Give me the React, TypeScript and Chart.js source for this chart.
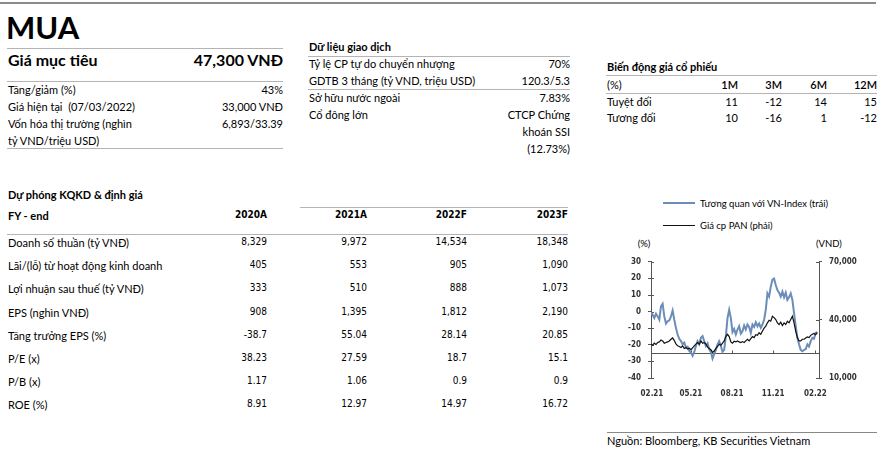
import React, { useEffect, useRef } from 'react';
import { Chart, registerables } from 'chart.js';

Chart.register(...registerables);

// ---------- Text data ----------
const TITLE = 'MUA';
const TARGET_LABEL = 'Giá mục tiêu';
const TARGET_VALUE = '47,300 VNĐ';
const INFO_LABELS = ['Tăng/giảm (%)', 'Giá hiện tại  (07/03/2022)', 'Vốn hóa thị trường (nghìn', 'tỷ VND/triệu USD)'];
const INFO_VALUES = ['43%', '33,000 VNĐ', '6,893/33.39', ''];

const TRADING_TITLE = 'Dữ liệu giao dịch';
const TRADING_LABELS = ['Tỷ lệ CP tự do chuyển nhượng', 'GDTB 3 tháng (tỷ VND, triệu USD)', 'Sở hữu nước ngoài', 'Cổ đông lớn', '', ''];
const TRADING_VALUES = ['70%', '120.3/5.3', '7.83%', 'CTCP Chứng', 'khoán SSI', '(12.73%)'];

const PERF_TITLE = 'Biến động giá cổ phiếu';
const PERF_UNIT = '(%)';
const PERF_PERIODS = ['1M', '3M', '6M', '12M'];
const PERF_ROWS = ['Tuyệt đối', 'Tương đối'];
const PERF_ABS = [11, -12, 14, 15];
const PERF_REL = [10, -16, 1, -12];

const FC_TITLE = 'Dự phóng KQKD & định giá';
const FC_HEAD = 'FY - end';
const FY_YEARS = ['2020A', '2021A', '2022F', '2023F'];
const FC_LABELS = [
  'Doanh số thuần (tỷ VNĐ)',
  'Lãi/(lỗ) từ hoạt động kinh doanh',
  'Lợi nhuận sau thuế (tỷ VNĐ)',
  'EPS (nghìn VNĐ)',
  'Tăng trưởng EPS (%)',
  'P/E (x)',
  'P/B (x)',
  'ROE (%)',
];
const FC_2020A = ['8,329', '405', '333', '908', '-38.7', '38.23', '1.17', '8.91'];
const FC_2021A = ['9,972', '553', '510', '1,395', '55.04', '27.59', '1.06', '12.97'];
const FC_2022F = ['14,534', '905', '888', '1,812', '28.14', '18.7', '0.9', '14.97'];
const FC_2023F = ['18,348', '1,090', '1,073', '2,190', '20.85', '15.1', '0.9', '16.72'];

const SOURCE = 'Nguồn: Bloomberg, KB Securities Vietnam';

// ---------- Chart data ----------
const LEGEND_REL = 'Tương quan với VN-Index (trái)';
const LEGEND_PRICE = 'Giá cp PAN (phải)';
const LEFT_TITLE = '(%)';
const RIGHT_TITLE = '(VND)';
const X_TICK_LABELS = ['02.21', '05.21', '08.21', '11.21', '02.22'];
const X_TICK_INDEX = [0.6, 24, 48.7, 73.4, 98.8];
const AXIS_CROSS = -25;

const REL_VNINDEX = [
  -0.5, -1.9, -3.9, -1.3, -2.9, -4.9, 3.1, 4.7, -2.9, -7.2,
  -5.8, -5.3, -2.9, 0.7, -4.9, -9.8, -13.8, -16.4, -17.8, -19.7,
  -18.7, -21.7, -21.1, -23.7, -24.7, -26.7, -24.3, -20.7, -17.8, -19.7,
  -15.8, -14.8, -17.8, -20.7, -19.1, -22.7, -24.3, -28.3, -25.7, -23.1,
  -19.7, -17.8, -20.7, -24.3, -23.1, -14.8, -3.9, 1.1, -3.9, -12.4,
  -10.4, -13.8, -10.8, -8.8, -13.2, -11.8, -8.4, -10.8, -7.8, -9.2,
  -12.8, -7.8, -9.2, -6.4, -8.8, -7.2, -9.8, -7.8, -4.9, 1.1,
  11, 9, 15, 19.3, 19.9, 16, 13, 11.4, 9, 12,
  8.6, 11.4, 7, 8.6, 11, 7, -0.9, -8.8, -15.8, -19.7,
  -23.1, -23.9, -23.1, -22.7, -19.7, -21.1, -17.8, -15.8, -16.4, -12.8,
  -12.4,
];

const PAN_PRICE = [
  27460, 26950, 27970, 27290, 28310, 28640, 29660, 29150, 27970, 28310,
  28640, 29150, 30000, 30680, 29320, 27630, 26610, 26270, 25760, 26610,
  25250, 25760, 24920, 25420, 24580, 25590, 26610, 27460, 28310, 27460,
  29150, 27970, 28310, 27460, 25930, 25250, 24580, 23220, 23900, 25250,
  26270, 27460, 26950, 27970, 29150, 31360, 32540, 31360, 28640, 27970,
  28980, 28640, 29150, 28640, 28310, 28810, 28310, 29150, 30000, 29150,
  30340, 31360, 30850, 32370, 32030, 33390, 32540, 34240, 35760, 36780,
  38480, 39830, 39320, 41870, 41190, 40170, 38480, 37630, 38810, 37120,
  38480, 37630, 39320, 38480, 40170, 41870, 38480, 34240, 30850, 29150,
  29150, 30000, 30000, 30680, 31190, 30850, 32030, 32540, 33050, 32370,
  33390,
];

const LATO = 'Lato, "Open Sans", sans-serif';
const TAHOMA = '"DejaVu Sans Condensed", "DejaVu Sans", sans-serif';

type TP = {
  x: number; y: number; s: string; size?: number; bold?: boolean | number;
  align?: 'left' | 'right' | 'center'; font?: string; color?: string; lh?: number;
};

function T({ x, y, s, size = 11, bold = false, align = 'left', font = LATO, color = '#000', lh }: TP) {
  const h = lh ?? Math.round(size * 1.4);
  const W = 400;
  const left = align === 'left' ? x : align === 'right' ? x - W : x - W / 2;
  return (
    <div
      style={{
        position: 'absolute', left, top: y - h / 2, width: W, height: h, lineHeight: `${h}px`,
        fontSize: size, fontFamily: font, fontWeight: bold === true ? 700 : bold === false ? 400 : bold,
        textAlign: align, color, whiteSpace: 'pre', overflow: 'visible',
      }}
    >
      {s}
    </div>
  );
}

function HLine({ x1, x2, y, c = '#b4b4b4', h = 1 }: { x1: number; x2: number; y: number; c?: string; h?: number }) {
  return <div style={{ position: 'absolute', left: x1, top: y, width: x2 - x1, height: h, background: c }} />;
}

const axisDeco = {
  id: 'axisDeco',
  beforeDatasetsDraw(chart: any) {
    const { ctx, chartArea: a, scales } = chart;
    const yc = Math.round(scales.y.getPixelForValue(AXIS_CROSS)) + 0.5;
    ctx.save();
    ctx.strokeStyle = '#555';
    ctx.lineWidth = 1;
    ctx.beginPath();
    ctx.moveTo(a.left, yc);
    ctx.lineTo(a.right, yc);
    for (const v of X_TICK_INDEX.slice(1)) {
      const x = Math.round(scales.x.getPixelForValue(v)) + 0.5;
      ctx.moveTo(x, yc);
      ctx.lineTo(x, yc - 3);
    }
    for (const t of scales.y.ticks) {
      const y = Math.round(scales.y.getPixelForValue(t.value)) + 0.5;
      ctx.moveTo(a.left, y);
      ctx.lineTo(a.left + 3, y);
    }
    for (const t of scales.y1.ticks) {
      const y = Math.round(scales.y1.getPixelForValue(t.value)) + 0.5;
      ctx.moveTo(a.right, y);
      ctx.lineTo(a.right - 3, y);
    }
    ctx.stroke();
    ctx.restore();
  },
};

function PriceChart() {
  const ref = useRef<HTMLCanvasElement>(null);
  useEffect(() => {
    if (!ref.current) return;
    const labels = REL_VNINDEX.map((_, i) => i);
    const tickFont = { family: TAHOMA, size: 8, weight: 'bold' as const };
    const chart = new Chart(ref.current, {
      type: 'line',
      data: {
        labels,
        datasets: [
          {
            label: LEGEND_PRICE,
            data: PAN_PRICE.map((v, i) => ({ x: i, y: v })),
            yAxisID: 'y1',
            borderColor: '#111111',
            borderWidth: 1.2,
            pointRadius: 0,
            tension: 0,
          },
          {
            label: LEGEND_REL,
            data: REL_VNINDEX.map((v, i) => ({ x: i, y: v })),
            yAxisID: 'y',
            borderColor: '#6c8db8',
            borderWidth: 2,
            pointRadius: 0,
            tension: 0,
          },
        ],
      },
      options: {
        animation: false,
        responsive: false,
        maintainAspectRatio: false,
        devicePixelRatio: 1,
        layout: { padding: { top: 10, left: 0, right: 0, bottom: 0 } },
        plugins: { legend: { display: false }, tooltip: { enabled: false } },
        scales: {
          x: {
            type: 'linear',
            min: 0,
            max: 101,
            grid: { display: false },
            border: { display: false },
            afterBuildTicks: (s: any) => {
              s.ticks = X_TICK_INDEX.map((v) => ({ value: v }));
            },
            afterFit: (s: any) => { s.height = 22; },
            ticks: {
              autoSkip: false,
              maxRotation: 0,
              padding: 3,
              color: '#333',
              font: tickFont,
              callback: (_v: any, i: number) => X_TICK_LABELS[i],
            },
          },
          y: {
            position: 'left',
            min: -40,
            max: 30,
            afterFit: (s: any) => { s.width = 61; },
            grid: { drawOnChartArea: false, tickLength: 3, color: '#555' },
            border: { display: true, color: '#555' },
            ticks: { stepSize: 10, padding: 7, color: '#333', font: tickFont },
          },
          y1: {
            position: 'right',
            min: 10000,
            max: 70000,
            afterFit: (s: any) => { s.width = 57; },
            grid: { drawOnChartArea: false, tickLength: 3, color: '#555' },
            border: { display: true, color: '#555' },
            ticks: {
              stepSize: 30000,
              padding: 7,
              color: '#333',
              font: tickFont,
              callback: (v: any) => Number(v).toLocaleString('en-US'),
            },
          },
        },
      },
      plugins: [axisDeco],
    });
    return () => chart.destroy();
  }, []);
  return (
    <canvas
      ref={ref}
      width={286}
      height={150}
      style={{ position: 'absolute', left: 590, top: 250, width: 286, height: 150 }}
    />
  );
}

export default function App() {
  const infoY = [89, 106, 123, 140];
  const tradY = [63, 80, 97, 114, 131, 148];
  const perfX = [738, 782, 827, 877];
  const fcX = [267, 367, 467, 568];
  const fcY = [242, 265, 288, 312, 335, 358, 381, 404];
  const fcCols = [FC_2020A, FC_2021A, FC_2022F, FC_2023F];
  return (
    <div style={{ position: 'absolute', left: 0, top: 0, width: 886, height: 450, overflow: 'hidden', background: '#fff' }}>
      <HLine x1={0} x2={876} y={2} c="#8a8a8a" h={2} />

      {/* left block */}
      <T x={6} y={27} s={TITLE} size={31} bold lh={36} />
      <HLine x1={7} x2={283} y={48} />
      <T x={8} y={60} s={TARGET_LABEL} size={16} bold />
      <T x={283} y={60} s={TARGET_VALUE} size={16} bold align="right" />
      <HLine x1={7} x2={283} y={81} />
      {INFO_LABELS.map((s, i) => <T key={'il' + i} x={8} y={infoY[i]} s={s} size={11} />)}
      {INFO_VALUES.map((s, i) => <T key={'iv' + i} x={283} y={infoY[i]} s={s} size={11} align="right" />)}
      <HLine x1={7} x2={283} y={148} />

      {/* middle block */}
      <T x={309} y={46} s={TRADING_TITLE} size={11} bold />
      <HLine x1={308} x2={570} y={56} />
      {TRADING_LABELS.map((s, i) => <T key={'tl' + i} x={309} y={tradY[i]} s={s} size={11} />)}
      {TRADING_VALUES.map((s, i) => <T key={'tv' + i} x={570} y={tradY[i]} s={s} size={11} align="right" />)}
      <HLine x1={308} x2={570} y={89} />

      {/* right block */}
      <T x={607} y={66} s={PERF_TITLE} size={11} bold />
      <HLine x1={606} x2={877} y={75} />
      <T x={607} y={84} s={PERF_UNIT} size={11} />
      {PERF_PERIODS.map((s, i) => <T key={'pp' + i} x={perfX[i]} y={84} s={s} size={11} bold={600} align="right" />)}
      <HLine x1={606} x2={877} y={93} />
      <T x={607} y={101} s={PERF_ROWS[0]} size={11} />
      <T x={607} y={117} s={PERF_ROWS[1]} size={11} />
      {PERF_ABS.map((v, i) => <T key={'pa' + i} x={perfX[i]} y={101} s={String(v)} size={11} align="right" />)}
      {PERF_REL.map((v, i) => <T key={'pr' + i} x={perfX[i]} y={117} s={String(v)} size={11} align="right" />)}

      {/* forecast table */}
      <T x={8} y={194} s={FC_TITLE} size={11} bold />
      <HLine x1={300} x2={568} y={207} />
      <T x={8} y={215} s={FC_HEAD} size={11} bold />
      {FY_YEARS.map((s, i) => <T key={'fy' + i} x={fcX[i]} y={215} s={s} size={10} bold font={TAHOMA} align="right" />)}
      <HLine x1={7} x2={568} y={234} />
      {FC_LABELS.map((s, i) => <T key={'fl' + i} x={8} y={fcY[i]} s={s} size={11} />)}
      {fcCols.map((col, c) =>
        col.map((s, i) => <T key={`fc${c}-${i}`} x={fcX[c]} y={fcY[i]} s={s} size={10} font={TAHOMA} align="right" />)
      )}

      {/* chart legend + titles */}
      <HLine x1={663} x2={695} y={202} c="#6c8db8" h={2} />
      <T x={700} y={203} s={LEGEND_REL} size={9.5} />
      <HLine x1={663} x2={695} y={225} c="#111" h={1} />
      <T x={700} y={225} s={LEGEND_PRICE} size={9.5} />
      <T x={644} y={243} s={LEFT_TITLE} size={9.5} align="center" />
      <T x={816} y={243} s={RIGHT_TITLE} size={9.5} />
      <PriceChart />

      <HLine x1={607} x2={877} y={432} c="#888" />
      <T x={607} y={440} s={SOURCE} size={11} />
    </div>
  );
}
